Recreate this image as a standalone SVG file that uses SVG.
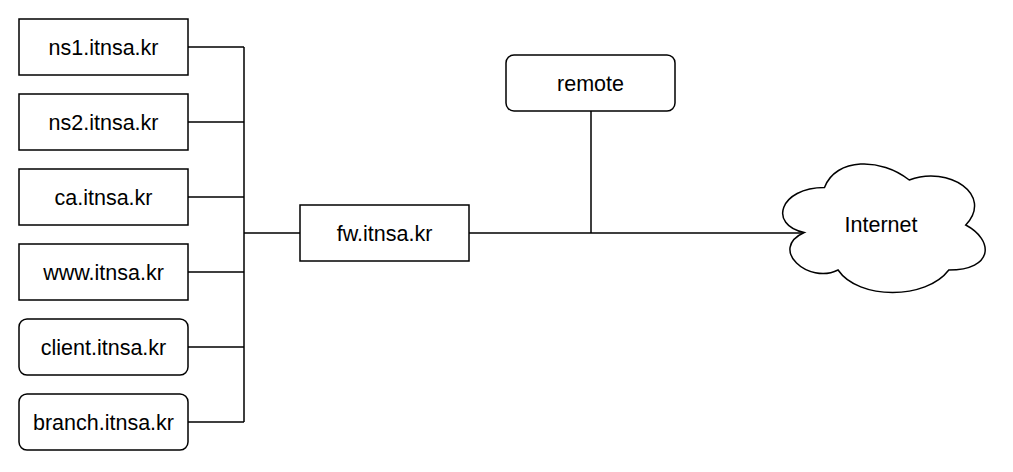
<svg xmlns="http://www.w3.org/2000/svg" width="1013" height="472" viewBox="0 0 1013 472">
<style>
.box{fill:#fff;stroke:#000;stroke-width:1.5}
.ln{fill:none;stroke:#000;stroke-width:1.5}
text{font-family:"Liberation Sans",Arial,sans-serif;font-size:21.5px;fill:#000;text-anchor:middle}
</style>
<rect width="1013" height="472" fill="#fff"/>
<g id="connectors">
<path class="ln" d="M188,47H244M188,122H244M188,197H244M188,272H244M188,347H244M188,422H244M244,47V422M244,233H300"/>
<path class="ln" d="M469,233H804M591,111V233"/>
</g>
<g id="ns1"><rect class="box" x="19" y="19" width="169" height="56"/><text x="103.5" y="54.5">ns1.itnsa.kr</text></g>
<g id="ns2"><rect class="box" x="19" y="94" width="169" height="56"/><text x="103.5" y="129.5">ns2.itnsa.kr</text></g>
<g id="ca"><rect class="box" x="19" y="169" width="169" height="56"/><text x="103.5" y="204.5">ca.itnsa.kr</text></g>
<g id="www"><rect class="box" x="19" y="244" width="169" height="56"/><text x="103.5" y="279.5">www.itnsa.kr</text></g>
<g id="client"><rect class="box" x="19" y="319" width="169" height="56" rx="8"/><text x="103.5" y="354.5">client.itnsa.kr</text></g>
<g id="branch"><rect class="box" x="19" y="394" width="169" height="56" rx="8"/><text x="103.5" y="429.5">branch.itnsa.kr</text></g>
<g id="fw"><rect class="box" x="300" y="205" width="169" height="56"/><text x="384.5" y="240.5">fw.itnsa.kr</text></g>
<g id="remote"><rect class="box" x="506" y="55" width="169" height="56" rx="8"/><text x="590.5" y="90.5">remote</text></g>
<g id="internet">
<path class="box" transform="translate(768,150) scale(226,150)" vector-effect="non-scaling-stroke" d="M0.25,0.25C0.05,0.25,0,0.5,0.16,0.55C0,0.66,0.18,0.9,0.31,0.8C0.4,1,0.7,1,0.8,0.8C1,0.8,1,0.6,0.875,0.5C1,0.3,0.8,0.1,0.625,0.2C0.5,0.05,0.3,0.05,0.25,0.25Z"/>
<text x="881" y="232">Internet</text>
</g>
</svg>
